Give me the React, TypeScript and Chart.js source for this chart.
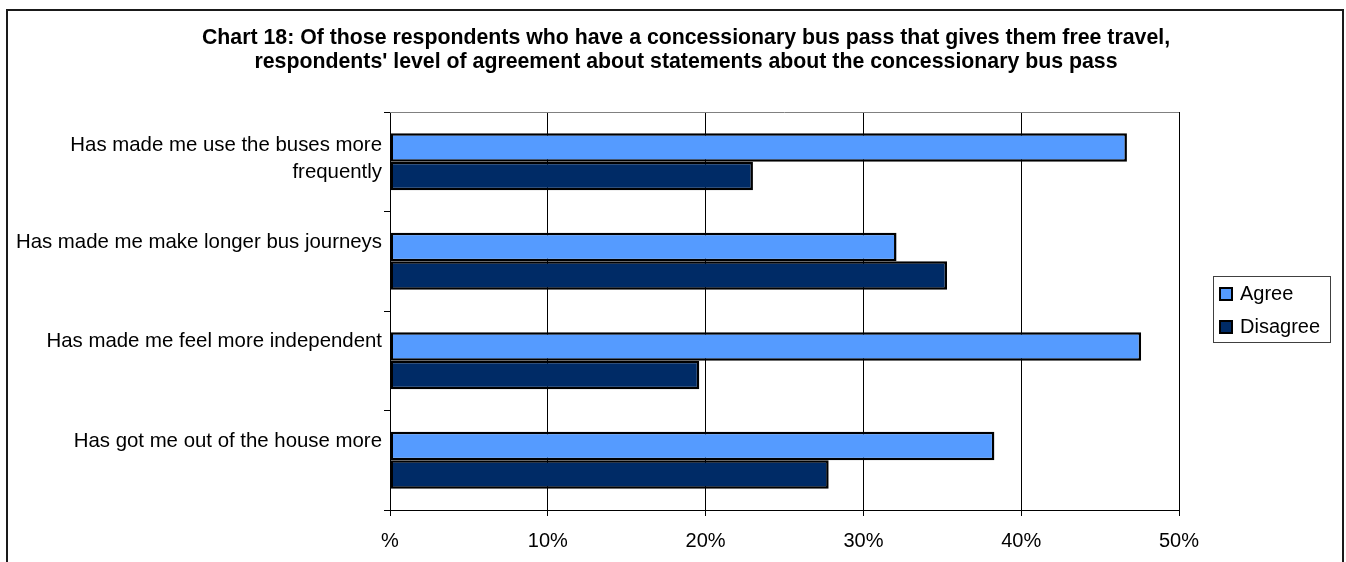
import React, { useEffect, useRef } from "react";
import { Chart, registerables } from "chart.js";

Chart.register(...registerables);

const titleLines = [
  "Chart 18: Of those respondents who have a concessionary bus pass that gives them free travel,",
  "respondents' level of agreement about statements about the concessionary bus pass",
];
const categories: (string | string[])[] = [
  ["Has made me use the buses more", "frequently"],
  "Has made me make longer bus journeys",
  "Has made me feel more independent",
  "Has got me out of the house more",
];
const seriesNames = ["Agree", "Disagree"];
const agreeValues = [46.7, 32.1, 47.6, 38.3];
const disagreeValues = [23.0, 35.3, 19.6, 27.8];
const xTickLabels = ["%", "10%", "20%", "30%", "40%", "50%"];
const seriesColors = ["#559BFF", "#002B66"];

const FONT = "'Liberation Sans', Arial, sans-serif";

const decorPlugin = {
  id: "decor",
  beforeDraw(chart: any) {
    const ctx = chart.ctx;
    ctx.save();
    ctx.fillStyle = "#ffffff";
    ctx.fillRect(0, 0, chart.width, chart.height);
    ctx.restore();
  },
  afterDraw(chart: any) {
    const ctx = chart.ctx;
    const ca = chart.chartArea;
    ctx.save();
    // outer chart border
    ctx.strokeStyle = "#1a1a1a";
    ctx.lineWidth = 2;
    ctx.strokeRect(7, 10, 1336, 560);
    // plot top border
    ctx.strokeStyle = "#808080";
    ctx.lineWidth = 1;
    ctx.beginPath();
    ctx.moveTo(ca.left, Math.round(ca.top) + 0.5);
    ctx.lineTo(ca.right, Math.round(ca.top) + 0.5);
    ctx.stroke();
    // title
    ctx.fillStyle = "#000";
    ctx.font = `bold 21.3px ${FONT}`;
    ctx.textAlign = "center";
    ctx.textBaseline = "middle";
    titleLines.forEach((t, i) => ctx.fillText(t, 686, 38.5 + i * 23.5));
    // legend
    const lx = 1213, ly = 276, lw = 117, lh = 66;
    ctx.strokeStyle = "#404040";
    ctx.lineWidth = 1;
    ctx.strokeRect(lx + 0.5, ly + 0.5, lw, lh);
    ctx.font = `20px ${FONT}`;
    ctx.textAlign = "left";
    ctx.textBaseline = "alphabetic";
    chart.data.datasets.forEach((ds: any, i: number) => {
      const by = 288 + i * 33;
      ctx.fillStyle = ds.backgroundColor;
      ctx.fillRect(1220, by, 12, 12);
      ctx.strokeStyle = "#000";
      ctx.lineWidth = 2;
      ctx.strokeRect(1220, by, 12, 12);
      ctx.fillStyle = "#000";
      ctx.fillText(ds.label, 1240, 299.5 + i * 33);
    });
    ctx.restore();
  },
};

export default function App() {
  const ref = useRef<HTMLCanvasElement | null>(null);
  useEffect(() => {
    if (!ref.current) return;
    const common = {
      borderColor: "#000",
      borderWidth: 2.5,
      borderSkipped: false,
      barPercentage: 1,
      categoryPercentage: 0.575,
    };
    const chart = new Chart(ref.current, {
      type: "bar",
      data: {
        labels: categories as any,
        datasets: [
          { label: seriesNames[0], data: agreeValues, backgroundColor: seriesColors[0], ...common },
          { label: seriesNames[1], data: disagreeValues, backgroundColor: seriesColors[1], ...common },
        ],
      },
      options: {
        indexAxis: "y",
        responsive: false,
        animation: false,
        devicePixelRatio: 1,
        layout: { padding: { left: 0, top: 112, right: 167, bottom: 0 } },
        plugins: {
          legend: { display: false },
          title: { display: false },
          tooltip: { enabled: false },
        },
        scales: {
          x: {
            type: "linear",
            min: 0,
            max: 50,
            afterFit: (s: any) => {
              s.height = 52;
            },
            afterBuildTicks: (s: any) => {
              s.ticks = xTickLabels.map((_, i) => ({ value: i * 10 }));
            },
            ticks: {
              callback: (_v: any, i: number) => xTickLabels[i],
              color: "#000",
              font: { family: FONT, size: 20 },
              padding: 13.5,
              maxRotation: 0,
            },
            grid: {
              color: "#000",
              lineWidth: 1,
              tickLength: 6,
              drawTicks: true,
            },
            border: { display: true, color: "#000", width: 1 },
          },
          y: {
            type: "category",
            afterFit: (s: any) => {
              s.width = 390;
            },
            ticks: {
              callback: function (this: any, _v: any, i: number) {
                const l = categories[i];
                return Array.isArray(l) ? l : [l, ""];
              },
              color: "#000",
              font: (c: any) => ({
                family: FONT,
                size: 20.4,
                lineHeight: c.index === 0 ? 1.35 : 1.6,
              }),
              padding: 2,
              labelOffset: -3,
              autoSkip: false,
            },
            grid: {
              drawOnChartArea: false,
              drawTicks: true,
              tickLength: 6,
              color: "#000",
              offset: true,
            },
            border: { display: true, color: "#000", width: 1 },
          },
        },
      },
      plugins: [decorPlugin],
    } as any);
    return () => chart.destroy();
  }, []);
  return (
    <div style={{ position: "fixed", left: 0, top: 0, width: 1346, height: 562 }}>
      <canvas ref={ref} width={1346} height={562} style={{ display: "block" }} />
    </div>
  );
}
